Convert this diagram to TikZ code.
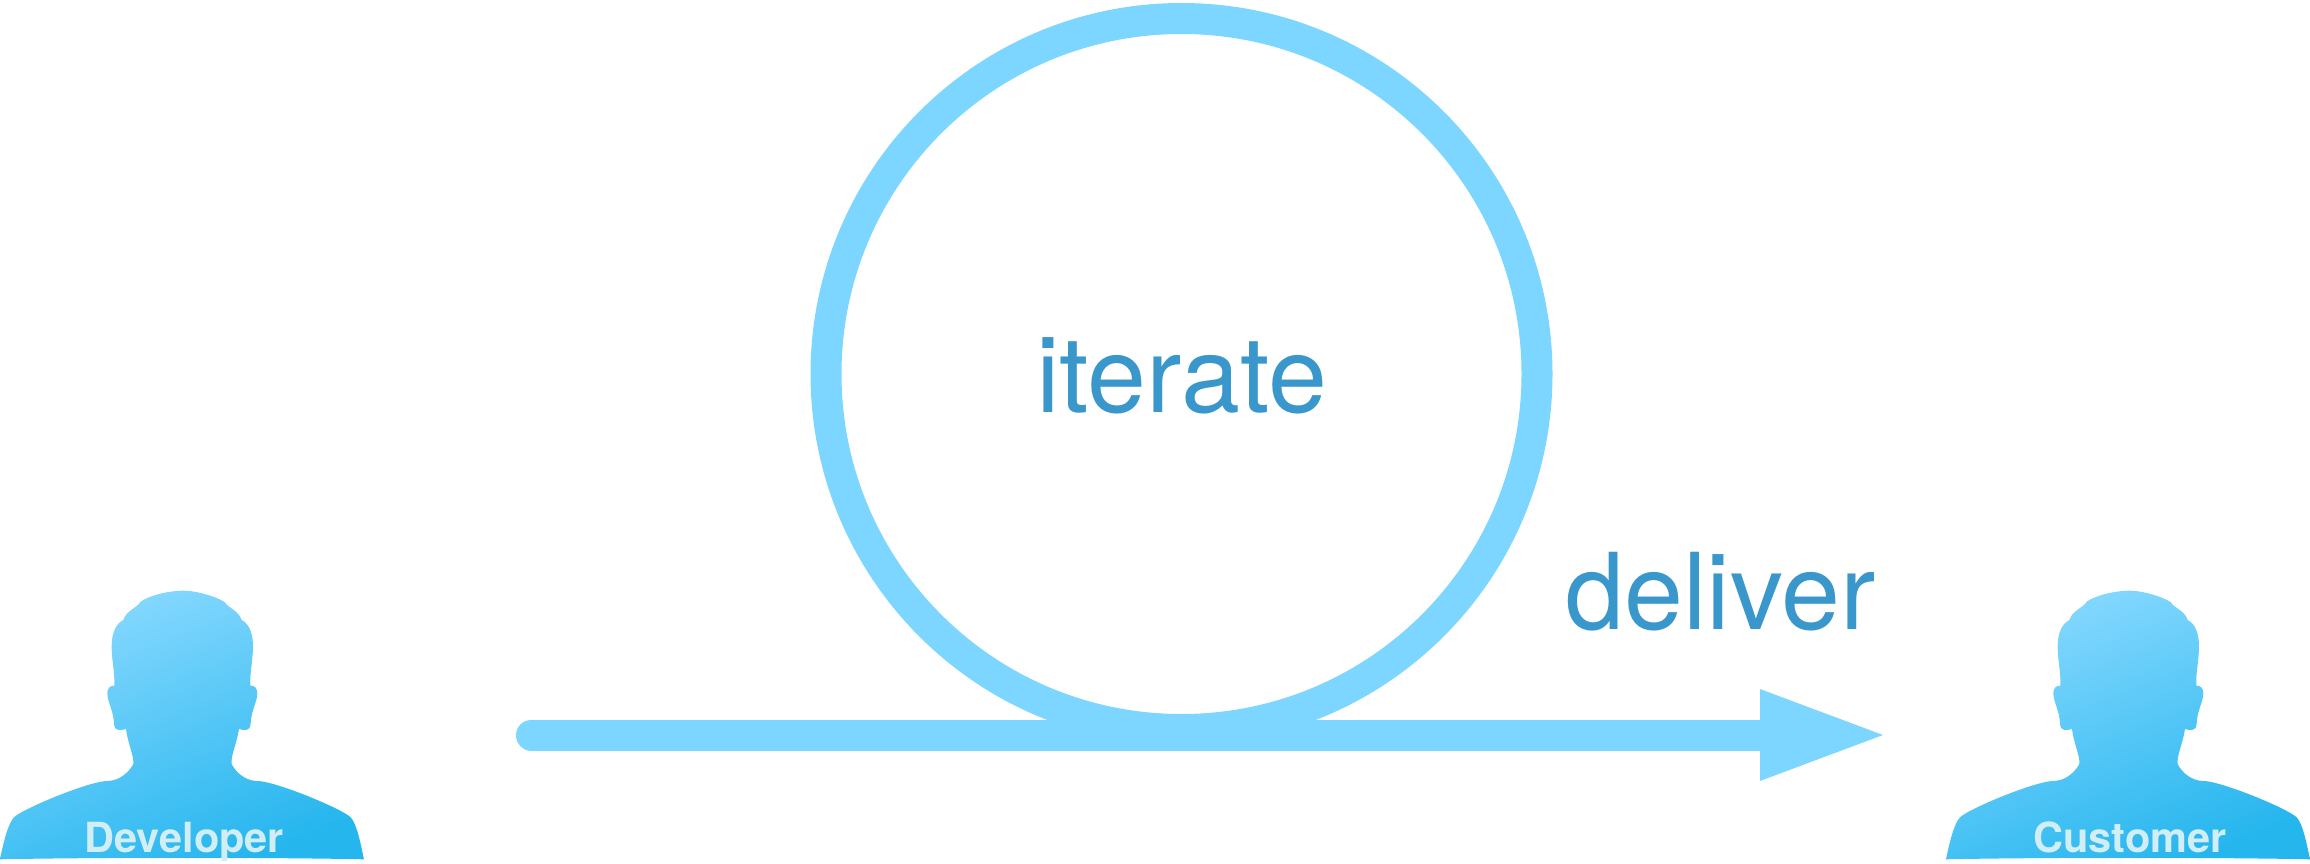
\documentclass[tikz,border=0pt]{standalone}
\usepackage{fontspec}
\setmainfont{TeX Gyre Heros}
\usetikzlibrary{arrows.meta}
\definecolor{loopblue}{HTML}{7DD6FF}
\definecolor{textblue}{HTML}{3A97CC}
\definecolor{lighttop}{HTML}{88D9FF}
\definecolor{darkbot}{HTML}{26B6EE}
\definecolor{persontext}{HTML}{D2EEF5}
\tikzset{
  looprim/.style={draw=loopblue,line width=31pt},
  flow/.style={draw=loopblue,line width=31pt,line cap=round},
  flowhead/.style={fill=loopblue,draw=none},
  biglabel/.style={text=textblue,font=\fontsize{106}{106}\selectfont,inner sep=0pt,anchor=base west},
  personlabel/.style={text=persontext,font=\fontsize{41.5}{41.5}\selectfont\bfseries,inner sep=0pt,anchor=base west},
  personbody/.style={top color=lighttop,bottom color=darkbot,shading angle=22}
}
\newcommand{\personshape}[1]{%
  \begin{scope}[shift={(#1,560)},x=0.3333pt,y=-0.3333pt]
    \path[personbody] (0,898) .. controls (12,840) and (25,790) .. (42,772)
      .. controls (70,745) and (270,663) .. (322,663)
      .. controls (355,663) and (385,640) .. (400,612)
      .. controls (403,590) and (382,545) .. (378,507)
      .. controls (365,510) and (343,518) .. (342,490)
      .. controls (340,450) and (322,425) .. (322,400)
      .. controls (322,385) and (330,376) .. (343,377)
      .. controls (345,340) and (335,300) .. (335,260)
      .. controls (335,215) and (350,190) .. (370,180)
      .. controls (380,150) and (410,145) .. (422,125)
      .. controls (450,105) and (510,92) .. (550,92)
      .. controls (590,92) and (650,110) .. (675,127)
      .. controls (685,145) and (715,150) .. (725,180)
      .. controls (745,190) and (759,215) .. (759,260)
      .. controls (759,300) and (749,340) .. (751,377)
      .. controls (764,376) and (772,385) .. (772,400)
      .. controls (772,425) and (754,450) .. (752,490)
      .. controls (751,518) and (729,510) .. (717,507)
      .. controls (712,545) and (691,590) .. (695,612)
      .. controls (709,640) and (739,663) .. (772,663)
      .. controls (824,663) and (1024,745) .. (1052,772)
      .. controls (1069,790) and (1080,840) .. (1092,898)
      .. controls (800,892) and (300,892) .. (0,898) -- cycle;
  \end{scope}}
\begin{document}
\begin{tikzpicture}[x=1pt,y=-1pt]
  \useasboundingbox (0,0) rectangle (2310,864);
  \personshape{0}
  \personshape{1946}
  \node[personlabel] (dev) at (84.5,852.5) {Developer};
  \node[personlabel] (cust) at (2033,852.5) {Customer};
  \node[looprim,circle,minimum size=711pt,inner sep=0pt] (loop) at (1181.5,374) {};
  \coordinate (start) at (531.5,735);
  \coordinate (neck) at (1761,735);
  \coordinate (tip) at (1883,735);
  \coordinate (headtop) at (1760,689);
  \coordinate (headbot) at (1760,781);
  \draw[flow] (start) -- (neck);
  \fill[flowhead] (headtop) -- (tip) -- (headbot) -- cycle;
  \node[biglabel] (iterate) at (1036,412) {iterate};
  \node[biglabel] (deliver) at (1565,629) {deliver};
\end{tikzpicture}
\end{document}
